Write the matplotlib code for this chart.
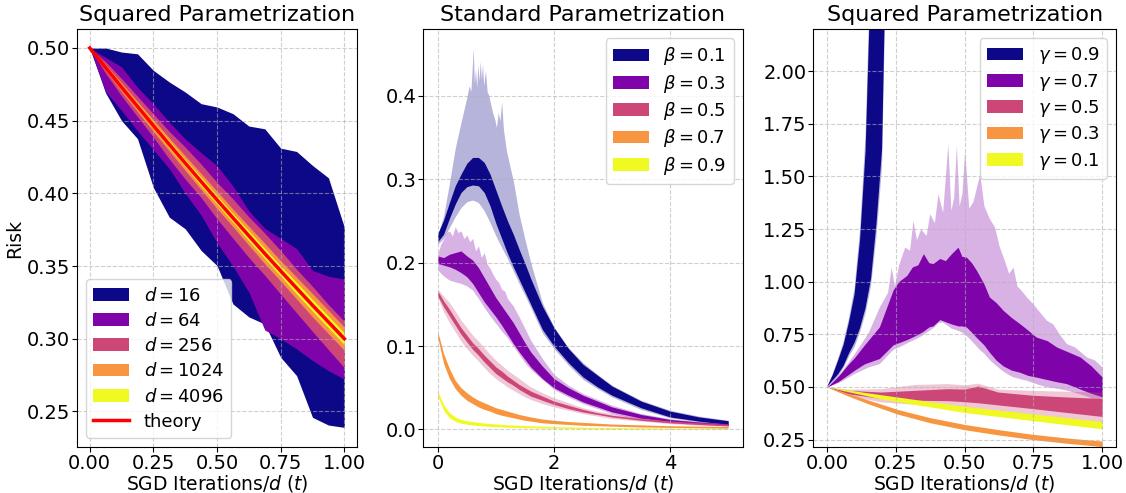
import matplotlib
matplotlib.use('Agg')
import matplotlib.pyplot as plt
import numpy as np

# colours of the five series (plasma, dark to light)
cols = ['#0d0887', '#7e03a8', '#cc4778', '#f89540', '#f0f921']

# ---------------- left panel: squared parametrization, several d ----------------
t16 = [i / 16 for i in range(17)]
theory = [0.5, 0.4865, 0.4730, 0.4598, 0.4466, 0.4336, 0.4208, 0.4081, 0.3955,
          0.3831, 0.3708, 0.3586, 0.3466, 0.3348, 0.3230, 0.3115, 0.3000]
d16_hi = [0.5, 0.5, 0.4972, 0.496, 0.4846, 0.4766, 0.4697, 0.4617, 0.4594,
          0.4548, 0.4463, 0.4444, 0.4311, 0.4288, 0.4192, 0.4107, 0.3767]
d16_lo = [0.5, 0.469, 0.450, 0.4376, 0.404, 0.3836, 0.3756, 0.3607, 0.3503,
          0.3239, 0.3150, 0.3101, 0.2872, 0.2746, 0.2459, 0.2406, 0.2390]
d64_hi = [0.5, 0.4935, 0.487, 0.473, 0.4616, 0.449, 0.4375, 0.428, 0.419,
          0.405, 0.388, 0.376, 0.369, 0.362, 0.347, 0.343, 0.341]
d64_lo = [0.5, 0.470, 0.457, 0.443, 0.430, 0.417, 0.400, 0.385, 0.366,
          0.350, 0.332, 0.306, 0.300, 0.293, 0.285, 0.278, 0.2722]
d256_hi = [0.5, 0.4905, 0.4790, 0.4668, 0.4546, 0.4426, 0.4318, 0.4201, 0.4075,
           0.3961, 0.3838, 0.3726, 0.3606, 0.3478, 0.3360, 0.3235, 0.3120]
d256_lo = [0.5, 0.4825, 0.4670, 0.4528, 0.4386, 0.4236, 0.4098, 0.3971, 0.3825,
           0.3691, 0.3558, 0.3436, 0.3306, 0.3178, 0.3050, 0.2925, 0.2800]
d1024_hi = [0.5, 0.4885, 0.4760, 0.4633, 0.4506, 0.4381, 0.4258, 0.4136, 0.4015,
            0.3891, 0.3773, 0.3656, 0.3536, 0.3423, 0.3310, 0.3195, 0.3080]
d1024_lo = [0.5, 0.4845, 0.4700, 0.4563, 0.4426, 0.4291, 0.4158, 0.4026, 0.3895,
            0.3771, 0.3643, 0.3516, 0.3396, 0.3273, 0.3150, 0.3035, 0.2920]
d4096_hi = [0.5, 0.4875, 0.4745, 0.4618, 0.4486, 0.4361, 0.4233, 0.4111, 0.3985,
            0.3861, 0.3743, 0.3621, 0.3501, 0.3388, 0.3270, 0.3155, 0.3040]
d4096_lo = [0.5, 0.4855, 0.4715, 0.4578, 0.4446, 0.4311, 0.4183, 0.4051, 0.3925,
            0.3801, 0.3673, 0.3551, 0.3431, 0.3308, 0.3190, 0.3075, 0.2960]
d_labels = [r'$d=16$', r'$d=64$', r'$d=256$', r'$d=1024$', r'$d=4096$']

# ---------------- middle panel: standard parametrization, several beta ----------------
xb = [0, 0.1, 0.2, 0.3, 0.4, 0.5, 0.6, 0.7, 0.8, 0.9, 1.0, 1.1, 1.2, 1.3, 1.4,
      1.5, 1.6, 1.8, 2.0, 2.25, 2.5, 2.75, 3.0, 3.5, 4.0, 4.5, 5.0]
b01_hi = [0.235, 0.251, 0.272, 0.292, 0.306, 0.319, 0.326, 0.326, 0.320, 0.306, 0.287, 0.268, 0.250, 0.234,
          0.216, 0.199, 0.181, 0.148, 0.122, 0.097, 0.078, 0.065, 0.052, 0.034, 0.022, 0.015, 0.0105]
b01_lo = [0.225, 0.234, 0.253, 0.270, 0.284, 0.291, 0.293, 0.292, 0.284, 0.268, 0.247, 0.229, 0.211, 0.195,
          0.180, 0.165, 0.150, 0.120, 0.100, 0.080, 0.063, 0.051, 0.041, 0.026, 0.015, 0.010, 0.006]
b01_llo = [0.222, 0.229, 0.242, 0.255, 0.266, 0.273, 0.275, 0.272, 0.262, 0.248, 0.232, 0.218, 0.205, 0.190,
           0.175, 0.161, 0.146, 0.116, 0.097, 0.077, 0.060, 0.049, 0.039, 0.024, 0.014, 0.009, 0.005]
b01_lx = [0, 0.1, 0.2, 0.3, 0.4, 0.45, 0.5, 0.54, 0.57, 0.59, 0.61, 0.63, 0.65, 0.67, 0.69, 0.71, 0.73,
          0.75, 0.77, 0.79, 0.82, 0.85, 0.88, 0.91, 0.95, 0.98, 1.01, 1.04, 1.07, 1.10, 1.13, 1.18, 1.25,
          1.30, 1.40, 1.50, 1.60, 1.80, 2.00, 2.25, 2.50, 2.75, 3.00, 3.50, 4.00, 4.50, 5.00]
b01_lhi = [0.233, 0.256, 0.295, 0.337, 0.368, 0.383, 0.398, 0.412, 0.405, 0.430, 0.457, 0.415, 0.432, 0.410,
           0.437, 0.418, 0.441, 0.420, 0.438, 0.412, 0.430, 0.405, 0.400, 0.390, 0.378, 0.372, 0.362, 0.380,
           0.370, 0.393, 0.360, 0.335, 0.313, 0.298, 0.258, 0.228, 0.200, 0.152, 0.123, 0.098, 0.080, 0.066,
           0.053, 0.035, 0.023, 0.016, 0.011]

b03_hi = [0.208, 0.206, 0.210, 0.212, 0.214, 0.208, 0.203, 0.194, 0.182, 0.170, 0.158, 0.148, 0.138, 0.128,
          0.116, 0.104, 0.093, 0.076, 0.061, 0.050, 0.041, 0.034, 0.027, 0.018, 0.012, 0.009, 0.0068]
b03_lo = [0.199, 0.197, 0.195, 0.192, 0.188, 0.183, 0.175, 0.164, 0.153, 0.144, 0.135, 0.125, 0.114, 0.103,
          0.093, 0.084, 0.075, 0.061, 0.050, 0.041, 0.033, 0.027, 0.021, 0.0135, 0.0095, 0.007, 0.0048]
b03_llo = [0.191, 0.184, 0.179, 0.177, 0.175, 0.172, 0.167, 0.157, 0.146, 0.136, 0.127, 0.118, 0.110, 0.100,
           0.090, 0.080, 0.072, 0.060, 0.048, 0.039, 0.031, 0.025, 0.019, 0.012, 0.008, 0.006, 0.004]
b03_lx = [0, 0.05, 0.1, 0.15, 0.2, 0.25, 0.3, 0.35, 0.4, 0.45, 0.5, 0.55, 0.6, 0.65, 0.7, 0.75, 0.8, 0.85,
          0.9, 0.95, 1.0, 1.05, 1.1, 1.15, 1.2, 1.3, 1.4, 1.5, 1.6, 1.8, 2.0, 2.25, 2.5, 2.75, 3.0, 3.5,
          4.0, 4.5, 5.0]
b03_lhi = [0.210, 0.222, 0.228, 0.236, 0.238, 0.232, 0.243, 0.236, 0.238, 0.229, 0.233, 0.225, 0.229, 0.214,
           0.220, 0.206, 0.212, 0.198, 0.193, 0.186, 0.180, 0.176, 0.168, 0.166, 0.157, 0.148, 0.135, 0.121,
           0.107, 0.085, 0.066, 0.053, 0.043, 0.036, 0.029, 0.019, 0.013, 0.009, 0.007]

b05_hi = [0.166, 0.154, 0.144, 0.133, 0.122, 0.113, 0.104, 0.097, 0.089, 0.082, 0.075, 0.070, 0.064, 0.059,
          0.054, 0.050, 0.046, 0.040, 0.034, 0.029, 0.024, 0.020, 0.017, 0.013, 0.010, 0.008, 0.006]
b05_lo = [0.160, 0.147, 0.136, 0.125, 0.114, 0.105, 0.096, 0.089, 0.081, 0.074, 0.067, 0.062, 0.057, 0.053,
          0.048, 0.044, 0.040, 0.035, 0.030, 0.025, 0.021, 0.018, 0.015, 0.011, 0.008, 0.006, 0.0044]
b05_lhi = [0.168, 0.160, 0.152, 0.142, 0.131, 0.122, 0.113, 0.106, 0.098, 0.090, 0.083, 0.077, 0.071, 0.066,
           0.061, 0.056, 0.051, 0.044, 0.038, 0.032, 0.026, 0.022, 0.019, 0.014, 0.011, 0.009, 0.007]
b05_llo = [0.158, 0.141, 0.128, 0.117, 0.106, 0.097, 0.089, 0.082, 0.074, 0.067, 0.061, 0.056, 0.051, 0.047,
           0.043, 0.039, 0.036, 0.031, 0.027, 0.023, 0.019, 0.016, 0.013, 0.010, 0.007, 0.005, 0.004]

b07_hi = [0.117, 0.091, 0.073, 0.059, 0.050, 0.044, 0.039, 0.035, 0.032, 0.029, 0.026, 0.024, 0.022, 0.020,
          0.018, 0.0165, 0.015, 0.0125, 0.011, 0.0095, 0.0085, 0.0075, 0.0065, 0.0055, 0.0045, 0.004, 0.0035]
b07_lo = [0.110, 0.079, 0.061, 0.049, 0.041, 0.035, 0.031, 0.027, 0.024, 0.022, 0.019, 0.017, 0.0155, 0.014,
          0.0125, 0.011, 0.010, 0.008, 0.007, 0.006, 0.005, 0.0045, 0.004, 0.003, 0.0025, 0.002, 0.0015]

b09_hi = [0.046, 0.030, 0.020, 0.015, 0.012, 0.0105, 0.0095, 0.0085, 0.0077, 0.0071, 0.0066, 0.006, 0.0056,
          0.0053, 0.005, 0.0047, 0.0044, 0.0039, 0.0034, 0.0031, 0.0028, 0.0025, 0.0023, 0.002, 0.0017, 0.0015, 0.0013]
b09_lo = [0.040, 0.023, 0.014, 0.010, 0.0075, 0.0063, 0.0054, 0.0047, 0.0041, 0.0037, 0.0033, 0.003, 0.0027,
          0.0025, 0.0023, 0.0021, 0.002, 0.0017, 0.0015, 0.0013, 0.0011, 0.001, 0.0009, 0.0007, 0.0006, 0.0005, 0.0004]
b_labels = [r'$\beta=0.1$', r'$\beta=0.3$', r'$\beta=0.5$', r'$\beta=0.7$', r'$\beta=0.9$']

# ---------------- right panel: squared parametrization, several gamma ----------------
g09_x = [0, 0.02, 0.04, 0.06, 0.08, 0.10, 0.12, 0.14, 0.16, 0.18, 0.20, 0.21]
g09_hi = [0.5, 0.555, 0.625, 0.70, 0.81, 0.94, 1.20, 1.62, 2.5, 3.0, 3.5, 3.7]
g09_lo = [0.5, 0.53, 0.56, 0.60, 0.66, 0.71, 0.78, 0.875, 1.016, 1.28, 1.63, 2.3]
g09_lhi = [0.5, 0.56, 0.635, 0.715, 0.83, 0.97, 1.25, 1.70, 2.6, 3.1, 3.6, 3.8]
g09_llo = [0.5, 0.525, 0.55, 0.59, 0.645, 0.69, 0.76, 0.85, 0.98, 1.22, 1.55, 2.2]

g07_x = [0, 0.04, 0.075, 0.1, 0.136, 0.19, 0.24, 0.26, 0.29, 0.31, 0.33, 0.35, 0.37, 0.385, 0.41, 0.43,
         0.45, 0.476, 0.49, 0.506, 0.525, 0.543, 0.57, 0.59, 0.615, 0.64, 0.67, 0.70, 0.73, 0.76, 0.8,
         0.834, 0.87, 0.92, 0.96, 1.0]
g07_hi = [0.5, 0.55, 0.605, 0.64, 0.70, 0.785, 0.96, 1.00, 1.03, 1.07, 1.08, 1.133, 1.09, 1.086, 1.11, 1.10,
          1.13, 1.164, 1.12, 1.117, 1.09, 1.054, 0.99, 0.927, 0.90, 0.864, 0.83, 0.801, 0.77, 0.737, 0.72,
          0.690, 0.67, 0.642, 0.60, 0.547]
g07_lo = [0.5, 0.525, 0.557, 0.58, 0.61, 0.635, 0.70, 0.71, 0.725, 0.737, 0.75, 0.765, 0.785, 0.79, 0.82, 0.81,
          0.80, 0.79, 0.79, 0.785, 0.76, 0.735, 0.70, 0.665, 0.627, 0.60, 0.58, 0.57, 0.555, 0.547, 0.535,
          0.525, 0.516, 0.49, 0.47, 0.453]
g07_llo = [0.5, 0.52, 0.545, 0.565, 0.59, 0.611, 0.68, 0.69, 0.71, 0.722, 0.735, 0.75, 0.769, 0.78, 0.817, 0.80,
           0.78, 0.769, 0.76, 0.745, 0.72, 0.69, 0.66, 0.63, 0.60, 0.575, 0.55, 0.54, 0.53, 0.515, 0.50,
           0.495, 0.485, 0.468, 0.45, 0.421]
g07_lx = [0, 0.05, 0.1, 0.15, 0.19, 0.22, 0.233, 0.245, 0.26, 0.282, 0.30, 0.312, 0.325, 0.34, 0.36, 0.373,
          0.39, 0.403, 0.42, 0.439, 0.45, 0.46, 0.47, 0.48, 0.49, 0.50, 0.515, 0.53, 0.555, 0.57, 0.59, 0.609,
          0.625, 0.64, 0.66, 0.676, 0.69, 0.705, 0.725, 0.745, 0.77, 0.797, 0.82, 0.845, 0.87, 0.9, 0.944,
          0.97, 1.0]
g07_lhi = [0.5, 0.57, 0.66, 0.76, 0.88, 0.95, 1.07, 0.98, 1.08, 1.164, 1.15, 1.291, 1.20, 1.25, 1.22, 1.323,
           1.28, 1.418, 1.33, 1.655, 1.34, 1.40, 1.647, 1.36, 1.42, 1.623, 1.35, 1.38, 1.513, 1.36, 1.30, 1.259,
           1.17, 1.117, 1.04, 1.07, 0.98, 0.96, 0.927, 0.90, 0.86, 0.817, 0.80, 0.75, 0.706, 0.69, 0.642,
           0.63, 0.595]

g05_x = [0, 0.075, 0.197, 0.318, 0.439, 0.5, 0.549, 0.621, 0.743, 0.864, 1.0]
g05_hi = [0.5, 0.484, 0.476, 0.484, 0.492, 0.49, 0.505, 0.476, 0.461, 0.453, 0.445]
g05_lo = [0.5, 0.468, 0.445, 0.437, 0.435, 0.43, 0.425, 0.415, 0.398, 0.38, 0.36]
g05_lhi = [0.5, 0.49, 0.492, 0.512, 0.516, 0.51, 0.518, 0.49, 0.484, 0.48, 0.476]
g05_llo = [0.5, 0.46, 0.429, 0.418, 0.405, 0.398, 0.39, 0.374, 0.36, 0.345, 0.326]

g03_x = [0, 0.075, 0.15, 0.257, 0.375, 0.5, 0.625, 0.743, 0.87, 1.0]
g03_hi = [0.5, 0.470, 0.438, 0.393, 0.354, 0.322, 0.297, 0.276, 0.258, 0.243]
g03_lo = [0.5, 0.458, 0.420, 0.371, 0.330, 0.297, 0.272, 0.251, 0.233, 0.217]

g01_x = [0, 0.197, 0.5, 0.75, 1.0]
g01_hi = [0.5, 0.463, 0.408, 0.372, 0.336]
g01_lo = [0.5, 0.443, 0.379, 0.340, 0.301]
g_labels = [r'$\gamma=0.9$', r'$\gamma=0.7$', r'$\gamma=0.5$', r'$\gamma=0.3$', r'$\gamma=0.1$']

fs = 14
lfs = 13

def band(ax, x, lo, hi, col, alpha=1.0, label=None):
    ax.fill_between(x, lo, hi, color=col, alpha=alpha, lw=0, label=label)

def style(ax):
    ax.grid(True, linestyle='--', color='#b0b0b0', alpha=0.6, lw=0.8)
    ax.tick_params(labelsize=fs, pad=1.5)
    ax.set_xlabel(r'SGD Iterations/$d$ ($t$)', fontsize=13.5, labelpad=0)

fig = plt.figure(figsize=(11.26, 4.93), dpi=100)

# left
ax1 = fig.add_axes([0.0684, 0.0933, 0.2487, 0.848])
d_bands = [(d16_lo, d16_hi), (d64_lo, d64_hi), (d256_lo, d256_hi),
           (d1024_lo, d1024_hi), (d4096_lo, d4096_hi)]
for (lo, hi), c, lab in zip(d_bands, cols, d_labels):
    band(ax1, t16, lo, hi, c, label=lab)
ax1.plot(t16, theory, color='red', lw=2.5, label='theory')
ax1.set_xlim(-0.05, 1.05)
ax1.set_ylim(0.2255, 0.5131)
ax1.set_xticks([0, 0.25, 0.5, 0.75, 1.0])
ax1.set_yticks([0.25, 0.30, 0.35, 0.40, 0.45, 0.50])
ax1.set_ylabel('Risk', fontsize=13.5, labelpad=2)
ax1.set_title('Squared Parametrization', fontsize=16)
style(ax1)
ax1.legend(loc='lower left', fontsize=lfs, labelspacing=0.4)

# middle
ax2 = fig.add_axes([0.3759, 0.0933, 0.2837, 0.848])
band(ax2, b01_lx, np.interp(b01_lx, xb, b01_llo), b01_lhi, cols[0], alpha=0.3)
band(ax2, xb, b01_lo, b01_hi, cols[0], label=b_labels[0])
band(ax2, b03_lx, np.interp(b03_lx, xb, b03_llo), b03_lhi, cols[1], alpha=0.3)
band(ax2, xb, b03_lo, b03_hi, cols[1], label=b_labels[1])
band(ax2, xb, b05_llo, b05_lhi, cols[2], alpha=0.3)
band(ax2, xb, b05_lo, b05_hi, cols[2], label=b_labels[2])
band(ax2, xb, b07_lo, b07_hi, cols[3], label=b_labels[3])
band(ax2, xb, b09_lo, b09_hi, cols[4], label=b_labels[4])
ax2.set_xlim(-0.25, 5.25)
ax2.set_ylim(-0.021, 0.480)
ax2.set_xticks([0, 2, 4])
ax2.set_yticks([0.0, 0.1, 0.2, 0.3, 0.4])
ax2.set_title('Standard Parametrization', fontsize=16)
style(ax2)
ax2.legend(loc='upper right', fontsize=lfs, labelspacing=0.3)

# right
ax3 = fig.add_axes([0.7223, 0.0933, 0.2688, 0.848])
band(ax3, g09_x, g09_llo, g09_lhi, cols[0], alpha=0.3)
band(ax3, g09_x, g09_lo, g09_hi, cols[0], label=g_labels[0])
band(ax3, g07_lx, np.interp(g07_lx, g07_x, g07_llo), g07_lhi, cols[1], alpha=0.3)
band(ax3, g07_x, g07_lo, g07_hi, cols[1], label=g_labels[1])
band(ax3, g05_x, g05_llo, g05_lhi, cols[2], alpha=0.3)
band(ax3, g05_x, g05_lo, g05_hi, cols[2], label=g_labels[2])
band(ax3, g03_x, g03_lo, g03_hi, cols[3], label=g_labels[3])
band(ax3, g01_x, g01_lo, g01_hi, cols[4], label=g_labels[4])
ax3.set_xlim(-0.05, 1.05)
ax3.set_ylim(0.215, 2.2)
ax3.set_xticks([0, 0.25, 0.5, 0.75, 1.0])
ax3.set_yticks([0.25, 0.5, 0.75, 1.0, 1.25, 1.5, 1.75, 2.0])
ax3.set_title('Squared Parametrization', fontsize=16)
style(ax3)
ax3.legend(loc='upper right', fontsize=lfs, labelspacing=0.3)

fig.savefig('out.png', dpi=100)
